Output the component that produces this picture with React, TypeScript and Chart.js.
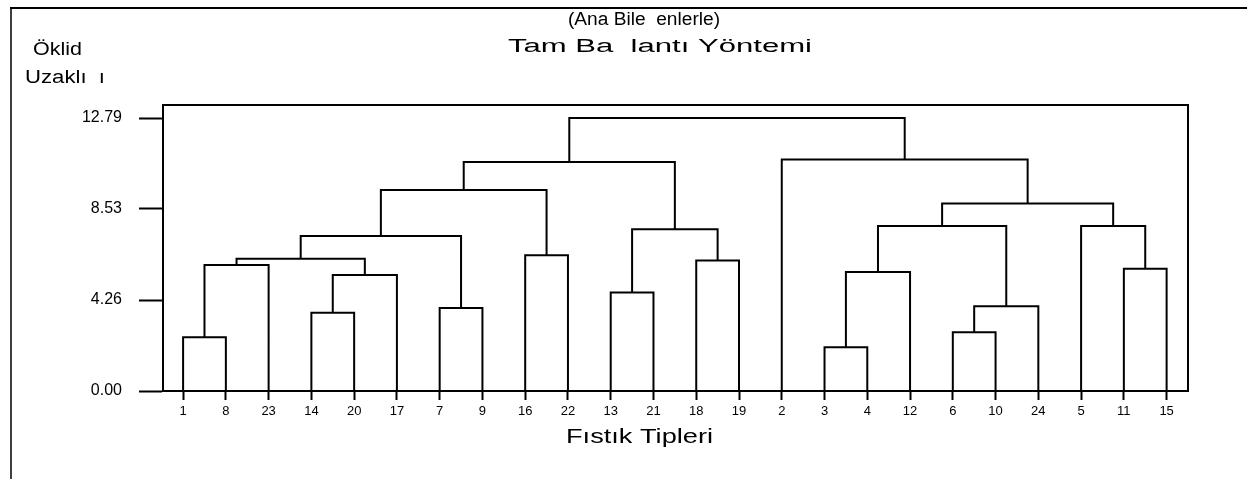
import { useEffect, useRef } from 'react';
import { Chart, registerables } from 'chart.js';

Chart.register(...registerables);

// Leaf order along the x axis (Fıstık Tipleri)
const leafLabels = ['1', '8', '23', '14', '20', '17', '7', '9', '16', '22', '13', '21', '18', '19', '2', '3', '4', '12', '6', '10', '24', '5', '11', '15'];
// Merges: left child, right child, height (Öklid uzaklığı). "mK" = merge number K.
const mergeLeft = ['1', 'm0', '14', 'm2', 'm1', '7', 'm4', '16', 'm6', '13', '18', 'm9', 'm8', '3', 'm13', '6', 'm15', 'm14', '11', '5', 'm17', '2', 'm12'];
const mergeRight = ['8', '23', '20', '17', 'm3', '9', 'm5', '22', 'm7', '21', '19', 'm10', 'm11', '4', '12', '10', '24', 'm16', '15', 'm18', 'm19', 'm20', 'm21'];
const mergeHeights = [2.52, 5.9, 3.67, 5.43, 6.2, 3.89, 7.26, 6.36, 9.42, 4.61, 6.12, 7.58, 10.73, 2.05, 5.58, 2.75, 3.97, 7.73, 5.73, 7.73, 8.79, 10.85, 12.79];
const yTickValues = [0, 4.26, 8.53, 12.79];

const titleLines = ['(Ana Bile  enlerle)', 'Tam Ba  lantı Yöntemi'];
const yTitleLines = ['Öklid', 'Uzaklı  ı'];
const xTitle = 'Fıstık Tipleri';

const FONT = '"Liberation Sans", Arial, sans-serif';

function buildDatasets() {
  const centers: { x: number; y: number }[] = [];
  const nodePos = (id: string) => {
    if (id.startsWith('m')) return centers[parseInt(id.slice(1), 10)];
    return { x: leafLabels.indexOf(id), y: 0 };
  };
  const datasets: any[] = [];
  for (let i = 0; i < mergeHeights.length; i++) {
    const l = nodePos(mergeLeft[i]);
    const r = nodePos(mergeRight[i]);
    const h = mergeHeights[i];
    centers[i] = { x: (l.x + r.x) / 2, y: h };
    datasets.push({
      data: [
        { x: l.x, y: l.y },
        { x: l.x, y: h },
        { x: r.x, y: h },
        { x: r.x, y: r.y },
      ],
      showLine: true,
      borderColor: '#000',
      borderWidth: 2,
      pointRadius: 0,
      tension: 0,
      fill: false,
    });
  }
  return datasets;
}

// draw text horizontally stretched to a given width (start x = left edge)
function drawStretched(ctx: CanvasRenderingContext2D, text: string, left: number, cy: number, size: number, width: number) {
  ctx.save();
  ctx.font = `${size}px ${FONT}`;
  ctx.textAlign = 'left';
  ctx.textBaseline = 'middle';
  const w = ctx.measureText(text).width;
  ctx.translate(left, cy);
  ctx.scale(width / w, 1);
  ctx.fillText(text, 0, 0);
  ctx.restore();
}

const decorPlugin = {
  id: 'decor',
  afterDraw(chart: any) {
    const { ctx, chartArea } = chart;
    ctx.save();
    // plot frame
    ctx.strokeStyle = '#000';
    ctx.lineWidth = 2;
    ctx.strokeRect(chartArea.left, chartArea.top, chartArea.right - chartArea.left, chartArea.bottom - chartArea.top);
    // outer frame (top + left)
    ctx.beginPath();
    ctx.lineWidth = 2;
    ctx.moveTo(10, 8);
    ctx.lineTo(1247, 8);
    ctx.stroke();
    ctx.beginPath();
    ctx.lineWidth = 1.5;
    ctx.moveTo(11, 7);
    ctx.lineTo(11, 479);
    ctx.stroke();
    // texts
    ctx.fillStyle = '#000';
    drawStretched(ctx, titleLines[0], 568, 20, 18, 152);
    drawStretched(ctx, titleLines[1], 508, 47, 18, 304);
    drawStretched(ctx, yTitleLines[0], 33, 50, 18, 49);
    drawStretched(ctx, yTitleLines[1], 25, 78, 18, 80);
    drawStretched(ctx, xTitle, 566, 437, 20, 147);
    ctx.restore();
  },
};

export default function App() {
  const ref = useRef<HTMLCanvasElement | null>(null);
  useEffect(() => {
    if (!ref.current) return;
    const chart = new Chart(ref.current, {
      type: 'scatter',
      data: { datasets: buildDatasets() },
      options: {
        responsive: false,
        animation: false,
        layout: { padding: { top: 105, right: 59, left: 0, bottom: 0 } },
        plugins: { legend: { display: false }, tooltip: { enabled: false }, title: { display: false } },
        scales: {
          x: {
            type: 'linear',
            min: -0.47,
            max: 23.5,
            afterFit(s: any) {
              s.height = 88;
            },
            afterBuildTicks(s: any) {
              s.ticks = leafLabels.map((_, i) => ({ value: i }));
            },
            grid: { display: true, drawOnChartArea: false, drawTicks: true, tickLength: 9, tickWidth: 2, tickColor: '#000' },
            border: { display: true, color: '#000', width: 2 },
            ticks: {
              autoSkip: false,
              maxRotation: 0,
              padding: 4,
              color: '#000',
              font: { family: FONT, size: 13 },
              callback: (v: any) => leafLabels[Math.round(Number(v))],
            },
          },
          y: {
            type: 'linear',
            min: 0,
            max: 13.4,
            afterFit(s: any) {
              s.width = 163;
            },
            afterBuildTicks(s: any) {
              s.ticks = yTickValues.map((v) => ({ value: v }));
            },
            grid: { display: true, drawOnChartArea: false, drawTicks: true, tickLength: 24, tickWidth: 2, tickColor: '#000' },
            border: { display: true, color: '#000', width: 2 },
            ticks: {
              padding: 17,
              color: '#000',
              font: { family: FONT, size: 16 },
              callback: (v: any) => Number(v).toFixed(2),
            },
          },
        },
      },
      plugins: [decorPlugin],
    });
    return () => chart.destroy();
  }, []);
  return (
    <div style={{ position: 'fixed', left: 0, top: 0, width: 1247, height: 479, background: '#fff' }}>
      <canvas ref={ref} width={1247} height={479} style={{ display: 'block' }} />
    </div>
  );
}
